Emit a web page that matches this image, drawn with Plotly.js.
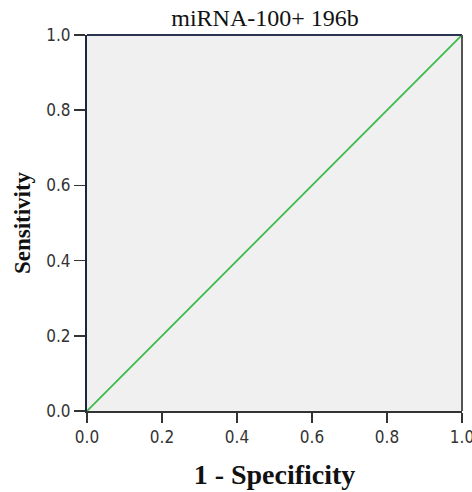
<!DOCTYPE html>
<html><head><meta charset="utf-8">
<script src="https://cdn.plot.ly/plotly-3.0.1.min.js"></script>
<style>html,body{margin:0;padding:0;background:#fff}#c{width:472px;height:492px}</style>
</head><body><div id="c"></div>
<script>
const fpr = [0.0, 1.0];
const tpr = [0.0, 1.0];
const tickVals = [0, 0.2, 0.4, 0.6, 0.8, 1.0];
const tickText = ['0.0','0.2','0.4','0.6','0.8','1.0'];

const tickFont = {family: 'DejaVu Sans Condensed, DejaVu Sans, sans-serif', size: 17, color: '#333'};
const serif = 'Liberation Serif, Times New Roman, serif';
const data = [{
  x: fpr, y: tpr, mode: 'lines', type: 'scatter',
  line: {color: '#3dbb4a', width: 1.8}, hoverinfo: 'none', cliponaxis: false
}];
const layout = {
  width: 472, height: 492,
  margin: {l: 87, r: 10, t: 35, b: 81},
  paper_bgcolor: '#ffffff', plot_bgcolor: '#f0f0f0',
  showlegend: false,
  title: {text: 'miRNA-100+ 196b', font: {family: serif, size: 24, color: '#111'}, x: 265/472, xanchor: 'center', y: 1 - 18/492, yanchor: 'middle'},
  xaxis: {range: [0, 1], tickvals: tickVals, ticktext: tickText, ticks: 'outside', ticklen: 10, tickwidth: 1.5, tickcolor: '#333',
    showgrid: false, zeroline: false, showline: true, linecolor: '#333', linewidth: 2, mirror: false,
    tickfont: tickFont, fixedrange: true, ticklabeloverflow: 'allow', automargin: false,
    title: {text: '<b>1 - Specificity</b>', font: {family: serif, size: 28, color: '#111'}, standoff: 18}},
  yaxis: {range: [0, 1], tickvals: tickVals, ticktext: tickText, ticks: 'outside', ticklen: 11, tickwidth: 1.5, tickcolor: '#333',
    showgrid: false, zeroline: false, showline: true, linecolor: '#1c2540', linewidth: 2,
    tickfont: tickFont, fixedrange: true, automargin: false,
    title: {text: '<b>Sensitivity</b>', font: {family: serif, size: 23, color: '#111'}, standoff: 9}},
  shapes: [
    {type: 'line', xref: 'paper', yref: 'paper', x0: 0, x1: 1, y0: 1, y1: 1, line: {color: '#2a3350', width: 2}},
    {type: 'line', xref: 'paper', yref: 'paper', x0: 1, x1: 1, y0: 0, y1: 1, line: {color: '#555', width: 2}}
  ]
};
Plotly.newPlot('c', data, layout, {displayModeBar: false, staticPlot: true});
</script></body></html>
